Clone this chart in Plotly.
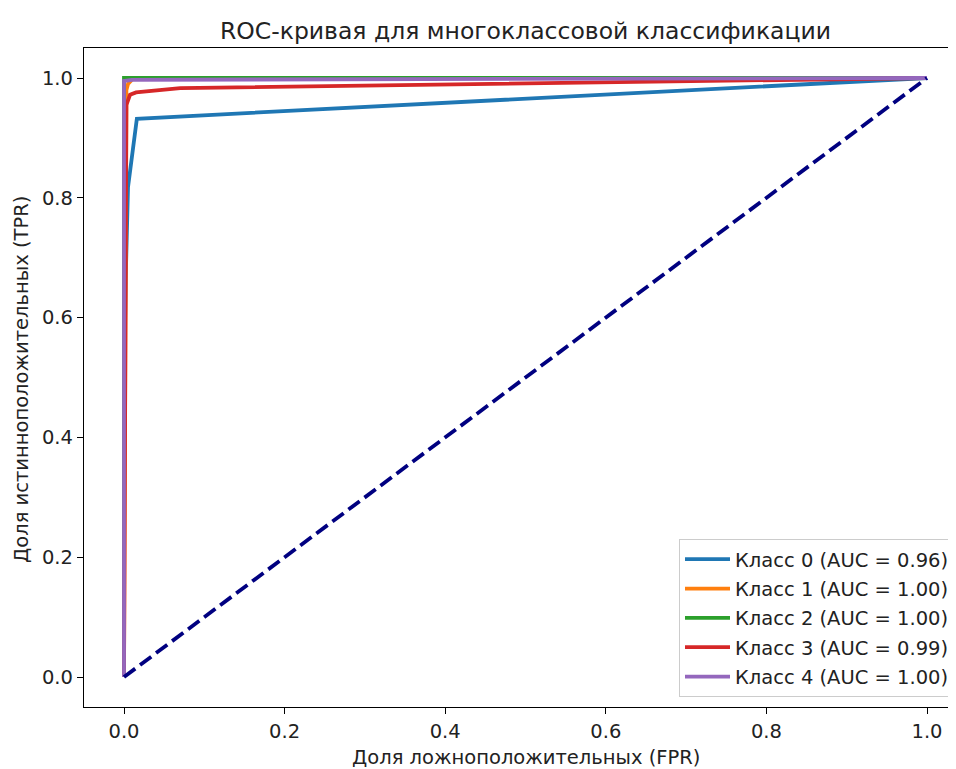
import plotly.graph_objects as go

# ---- data ----
class_names = ["Класс 0", "Класс 1", "Класс 2", "Класс 3", "Класс 4"]
auc_values = [0.96, 1.00, 1.00, 0.99, 1.00]
colors = ["#1f77b4", "#ff7f0e", "#2ca02c", "#d62728", "#9467bd"]

fpr_0 = [0.0, 0.0, 0.002, 0.005, 0.016, 1.0]
tpr_0 = [0.0, 0.45, 0.66, 0.818, 0.932, 1.0]

fpr_1 = [0.0, 0.003, 0.005, 0.012, 1.0]
tpr_1 = [0.0, 0.98, 0.99, 1.0, 1.0]

fpr_2 = [0.0, 0.0, 1.0]
tpr_2 = [0.0, 1.0, 1.0]

fpr_3 = [0.0, 0.002, 0.003, 0.0075, 0.015, 0.07, 1.0]
tpr_3 = [0.0, 0.6, 0.955, 0.972, 0.976, 0.983, 1.0]

fpr_4 = [0.0, 0.0, 0.01, 1.0]
tpr_4 = [0.0, 0.995, 0.997, 1.0]

diag_x = [0.0, 1.0]
diag_y = [0.0, 1.0]

x_ticks = [0.0, 0.2, 0.4, 0.6, 0.8, 1.0]
y_ticks = [0.0, 0.2, 0.4, 0.6, 0.8, 1.0]

fprs = [fpr_0, fpr_1, fpr_2, fpr_3, fpr_4]
tprs = [tpr_0, tpr_1, tpr_2, tpr_3, tpr_4]

FONT = "DejaVu Sans"
FS = 19.5
W, H = 956, 769
OFF = 8  # page body margin
L, R, T, B = 84 - OFF, 0, 48 - OFF, 769 - (707 - OFF)
PW, PH = W - L - R, H - T - B

fig = go.Figure()
for i in range(5):
    fig.add_trace(go.Scatter(
        x=fprs[i], y=tprs[i], mode="lines",
        line=dict(color=colors[i], width=3.8),
        name=f"{class_names[i]} (AUC = {auc_values[i]:.2f})",
        legendgroup=f"g{i}",
    ))

fig.add_trace(go.Scatter(
    x=diag_x, y=diag_y, mode="lines",
    line=dict(color="navy", width=3.8, dash="14px,6px"),
    showlegend=False,
))

axis_common = dict(
    showgrid=False, zeroline=False,
    showline=True, linecolor="black", linewidth=1.3,
    ticks="outside", ticklen=6, tickwidth=1.3, tickcolor="black",
    tickfont=dict(family=FONT, size=FS, color="#222"),
    tickformat=".1f",
)

# pixel -> data: x: 0 at page 124, 1 at page 927 ; y: 0 at page 677, 1 at page 78
fig.update_xaxes(range=[-40 / 803, (W + OFF - 124) / 803], tickvals=x_ticks, mirror=True, **axis_common)
fig.update_yaxes(range=[-30 / 599, 1 + 30 / 599], tickvals=y_ticks, mirror=False, **axis_common)

fig.update_layout(
    width=W, height=H,
    margin=dict(l=L, r=R, t=T, b=B, pad=0),
    plot_bgcolor="white", paper_bgcolor="white",
    font=dict(family=FONT, size=FS, color="#222"),
    title=dict(
        text="ROC-кривая для многоклассовой классификации",
        x=(525.5 - OFF) / W, xanchor="center", xref="container",
        y=1 - (31 - OFF) / H, yanchor="middle", yref="container",
        font=dict(family=FONT, size=23.5, color="#222"),
    ),
    legend=dict(
        x=(955 - 84) / PW, xanchor="right",
        y=(707 - 697) / PH, yanchor="bottom",
        bgcolor="white", bordercolor="#cccccc", borderwidth=1,
        font=dict(family=FONT, size=FS, color="#222"),
        tracegroupgap=1, itemwidth=45,
    ),
    annotations=[
        dict(text="Доля ложноположительных (FPR)", xref="paper", yref="paper",
             x=(525.5 - 84) / PW, y=(707 - 757) / PH,
             xanchor="center", yanchor="middle", showarrow=False,
             font=dict(family=FONT, size=FS, color="#222")),
        dict(text="Доля истинноположительных (TPR)", xref="paper", yref="paper",
             x=(21 - 84) / PW, y=(707 - 380) / PH, textangle=-90,
             xanchor="center", yanchor="middle", showarrow=False,
             font=dict(family=FONT, size=FS, color="#222")),
    ],
)

fig.write_html("out.html")
